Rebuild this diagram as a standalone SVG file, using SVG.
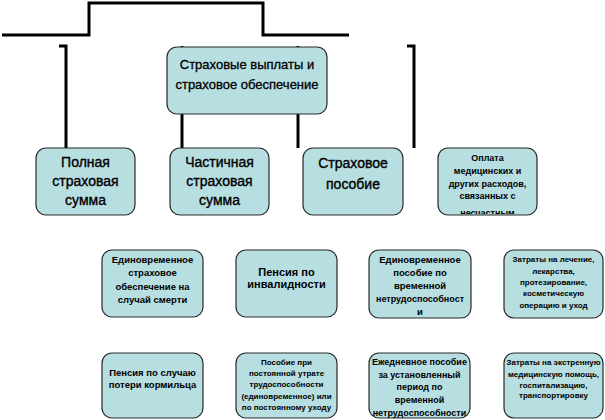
<svg xmlns="http://www.w3.org/2000/svg" width="605" height="420" viewBox="0 0 605 420">
<style>
.box{fill:#b7dee0;stroke:#2a2a2a;stroke-width:1.2}
.ln{fill:none;stroke:#000;stroke-width:3}
text{font-family:"Liberation Sans",Arial,sans-serif;fill:#000;text-anchor:middle}
.big{font-size:14px;stroke:#000;stroke-width:0.35}
.mid{font-size:13px;stroke:#000;stroke-width:0.3}
.sm{font-size:9.5px;font-weight:bold}
.s9{font-size:9px;font-weight:bold}
.xs{font-size:8px;font-weight:bold}
</style>
<defs>
<clipPath id="c4"><rect x="438" y="148" width="99" height="66" rx="10"/></clipPath>
</defs>
<rect width="605" height="420" fill="#fff"/>
<g id="connectors">
<path class="ln" d="M2 35 H89 V3 H263 V35 H349"/>
<path class="ln" d="M59 46 H66 V148"/>
<path class="ln" d="M407 46 H414 V148"/>
<path class="ln" d="M182 46 V148"/>
<path class="ln" d="M298 46 V148"/>
</g>
<g id="root">
<rect class="box" x="167" y="47" width="160" height="67" rx="10"/>
<text class="mid" x="247" y="69">Страховые выплаты и</text>
<text class="mid" x="247" y="89">страховое обеспечение</text>
</g>
<g id="full">
<rect class="box" x="36" y="148" width="99" height="67" rx="10"/>
<text class="big" x="85.5" y="167">Полная</text>
<text class="big" x="85.5" y="186">страховая</text>
<text class="big" x="85.5" y="205">сумма</text>
</g>
<g id="partial">
<rect class="box" x="170" y="148" width="99" height="67" rx="10"/>
<text class="big" x="219.5" y="167">Частичная</text>
<text class="big" x="219.5" y="186">страховая</text>
<text class="big" x="219.5" y="205">сумма</text>
</g>
<g id="benefit">
<rect class="box" x="303" y="148" width="100" height="67" rx="10"/>
<text class="big" x="353" y="168">Страховое</text>
<text class="big" x="353" y="189">пособие</text>
</g>
<g id="medical">
<rect class="box" x="438" y="148" width="99" height="67" rx="10"/>
<g clip-path="url(#c4)">
<text class="s9" x="487.5" y="161">Оплата</text>
<text class="s9" x="487.5" y="174">медицинских и</text>
<text class="s9" x="487.5" y="187">других расходов,</text>
<text class="s9" x="487.5" y="199">связанных с</text>
<text class="s9" x="487.5" y="216">несчастным</text>
</g>
</g>
<g id="lump-death">
<rect class="box" x="102" y="250" width="101" height="67" rx="10"/>
<text class="sm" x="152.5" y="263">Единовременное</text>
<text class="sm" x="152.5" y="276">страховое</text>
<text class="sm" x="152.5" y="290">обеспечение на</text>
<text class="sm" x="152.5" y="303">случай смерти</text>
</g>
<g id="disability">
<rect class="box" x="236" y="250" width="101" height="67" rx="10"/>
<text class="sm" x="286.5" y="276" style="font-size:11px">Пенсия по</text>
<text class="sm" x="286.5" y="288" style="font-size:11px">инвалидности</text>
</g>
<g id="lump-temp">
<rect class="box" x="369" y="250" width="102" height="68" rx="10"/>
<text class="sm" x="420" y="263">Единовременное</text>
<text class="sm" x="420" y="276">пособие по</text>
<text class="sm" x="420" y="289">временной</text>
<text class="s9" x="420" y="302">нетрудоспособност</text>
<text class="sm" x="420" y="315">и</text>
</g>
<g id="treatment">
<rect class="box" x="504" y="250" width="99" height="68" rx="10"/>
<text class="xs" x="553.5" y="262">Затраты  на лечение,</text>
<text class="xs" x="553.5" y="274">лекарства,</text>
<text class="xs" x="553.5" y="285">протезирование,</text>
<text class="xs" x="553.5" y="296">косметическую</text>
<text class="xs" x="553.5" y="308">операцию и уход</text>
</g>
<g id="survivor">
<rect class="box" x="102" y="353" width="101" height="65" rx="10"/>
<text class="sm" x="152.5" y="376">Пенсия по случаю</text>
<text class="sm" x="152.5" y="388">потери кормильца</text>
</g>
<g id="permanent">
<rect class="box" x="236" y="353" width="101" height="65" rx="10"/>
<text class="xs" x="286.5" y="365">Пособие при</text>
<text class="xs" x="286.5" y="376">постоянной утрате</text>
<text class="xs" x="286.5" y="387">трудоспособности</text>
<text class="xs" x="286.5" y="399">(единовременное)  или</text>
<text class="xs" x="286.5" y="410">по постоянному уходу</text>
</g>
<g id="daily">
<rect class="box" x="369" y="353" width="101" height="65" rx="10"/>
<text class="s9" x="419.5" y="365">Ежедневное пособие</text>
<text class="s9" x="419.5" y="378">за установленный</text>
<text class="s9" x="419.5" y="390">период по</text>
<text class="s9" x="419.5" y="403">временной</text>
<text class="s9" x="419.5" y="416">нетрудоспособности</text>
</g>
<g id="emergency">
<rect class="box" x="504" y="353" width="99" height="65" rx="10"/>
<text class="xs" x="553.5" y="365">Затраты  на экстренную</text>
<text class="xs" x="553.5" y="377">медицинскую  помощь,</text>
<text class="xs" x="553.5" y="388">госпитализацию,</text>
<text class="xs" x="553.5" y="398">транспортировку</text>
</g>
</svg>
